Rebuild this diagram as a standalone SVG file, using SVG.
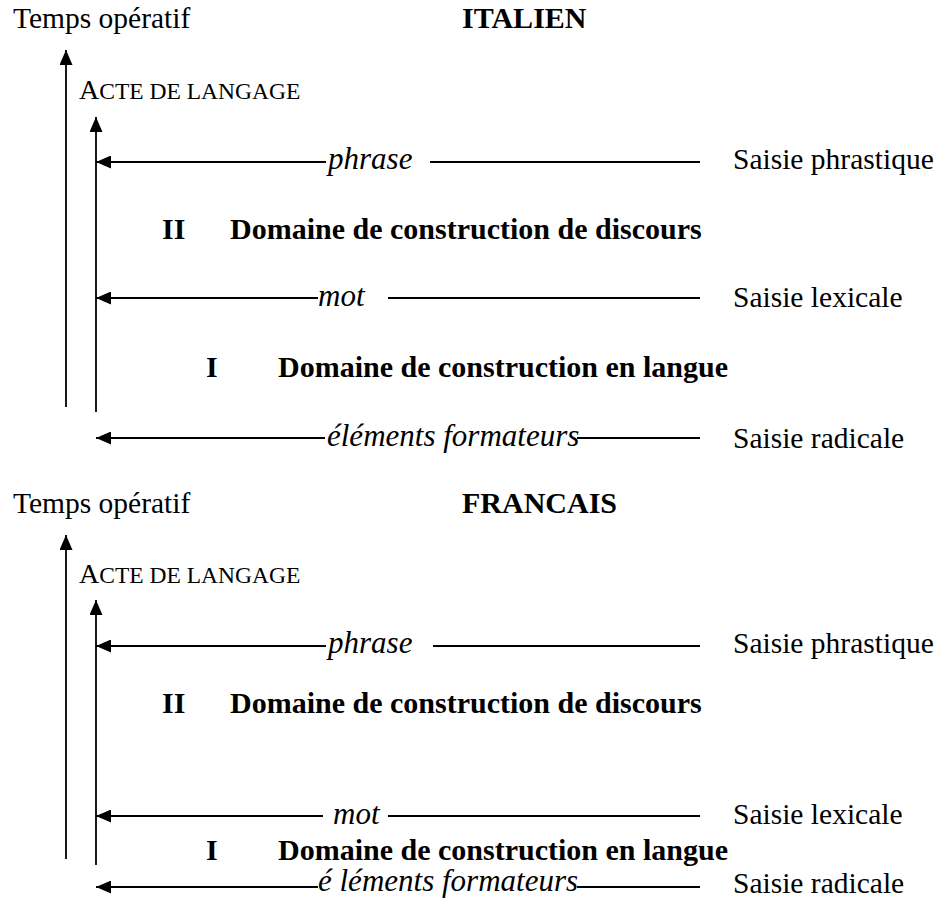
<svg xmlns="http://www.w3.org/2000/svg" width="938" height="899" viewBox="0 0 938 899">
<defs>
<marker id="ah" viewBox="0 0 15 13" refX="15" refY="6.5" markerWidth="15" markerHeight="13" markerUnits="userSpaceOnUse" orient="auto">
<path d="M0,0 L15,6.5 L0,13 Z" fill="#000"/>
</marker>
<style>
text{font-family:"Liberation Serif","Times New Roman",serif;font-size:29.5px;fill:#000}
.b{font-weight:bold;font-size:30px}
.i{font-style:italic;font-size:31px}
.sc{font-size:28px}
.sm{font-size:23.5px}
line{stroke:#000;stroke-width:1.8}
.ar{marker-end:url(#ah)}
</style>
</defs>
<rect width="938" height="899" fill="#fff"/>
<g id="connectors">
<line class="ar" x1="66" y1="407" x2="66" y2="50"/>
<line class="ar" x1="96" y1="412" x2="96" y2="117"/>
<line class="ar" x1="326" y1="162" x2="96" y2="162"/>
<line x1="430" y1="162" x2="700" y2="162"/>
<line class="ar" x1="318" y1="298" x2="96" y2="298"/>
<line x1="388" y1="298" x2="700" y2="298"/>
<line class="ar" x1="325" y1="438" x2="96" y2="438"/>
<line x1="577" y1="438" x2="700" y2="438"/>
<line class="ar" x1="66" y1="859" x2="66" y2="535"/>
<line class="ar" x1="96" y1="865" x2="96" y2="600"/>
<line class="ar" x1="326" y1="646" x2="96" y2="646"/>
<line x1="433" y1="646" x2="700" y2="646"/>
<line class="ar" x1="323" y1="816" x2="96" y2="816"/>
<line x1="388" y1="816" x2="700" y2="816"/>
<line class="ar" x1="318" y1="887" x2="96" y2="887"/>
<line x1="577" y1="887" x2="700" y2="887"/>
</g>
<g id="italien">
<g id="temps1"><text x="13" y="28">Temps opératif</text></g>
<g id="titre1"><text class="b" x="462" y="28">ITALIEN</text></g>
<g id="acte1"><text x="79" y="99"><tspan class="sc">A</tspan><tspan class="sm">CTE DE LANGAGE</tspan></text></g>
<g id="phrase1"><text class="i" x="328" y="169">phrase</text></g>
<g id="sphr1"><text x="733" y="169">Saisie phrastique</text></g>
<g id="dom2a"><text class="b" x="162" y="239">II</text><text class="b" x="230" y="239">Domaine de construction de discours</text></g>
<g id="mot1"><text class="i" x="318" y="306">mot</text></g>
<g id="slex1"><text x="733" y="307">Saisie lexicale</text></g>
<g id="dom1a"><text class="b" x="206" y="377">I</text><text class="b" x="278" y="377">Domaine de construction en langue</text></g>
<g id="elem1"><text class="i" x="327" y="446">éléments formateurs</text></g>
<g id="srad1"><text x="733" y="448">Saisie radicale</text></g>
</g>
<g id="francais">
<g id="temps2"><text x="13" y="513">Temps opératif</text></g>
<g id="titre2"><text class="b" x="462" y="513">FRANCAIS</text></g>
<g id="acte2"><text x="79" y="583"><tspan class="sc">A</tspan><tspan class="sm">CTE DE LANGAGE</tspan></text></g>
<g id="phrase2"><text class="i" x="328" y="653">phrase</text></g>
<g id="sphr2"><text x="733" y="653">Saisie phrastique</text></g>
<g id="dom2b"><text class="b" x="162" y="713">II</text><text class="b" x="230" y="713">Domaine de construction de discours</text></g>
<g id="mot2"><text class="i" x="333" y="824">mot</text></g>
<g id="slex2"><text x="733" y="824">Saisie lexicale</text></g>
<g id="dom1b"><text class="b" x="206" y="860">I</text><text class="b" x="278" y="860">Domaine de construction en langue</text></g>
<g id="elem2"><text class="i" x="318" y="891">é léments formateurs</text></g>
<g id="srad2"><text x="733" y="893">Saisie radicale</text></g>
</g>
</svg>
